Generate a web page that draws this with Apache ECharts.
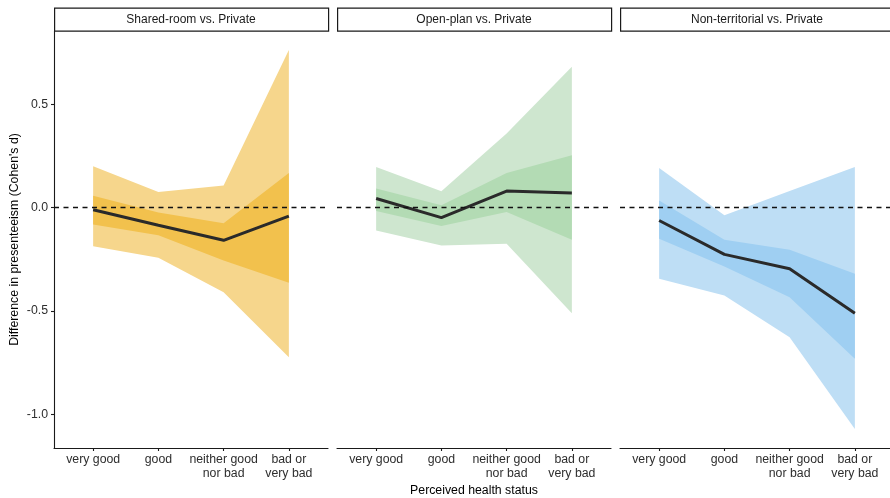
<!DOCTYPE html>
<html>
<head>
<meta charset="utf-8">
<script src="https://cdn.jsdelivr.net/npm/echarts@6/dist/echarts.min.js"></script>
<style>
  html, body { margin: 0; padding: 0; background: #fff; }
  #chart { width: 890px; height: 498px; }
</style>
</head>
<body>
<div id="chart"></div>
<script>
// Perceived health status categories (x axis of every panel)
const categories = ['very good', 'good', 'neither good\nnor bad', 'bad or\nvery bad'];
const panelTitles = ['Shared-room vs. Private', 'Open-plan vs. Private', 'Non-territorial vs. Private'];
const yTicks = [-1.0, -0.5, 0.0, 0.5];

// Shared-room vs. Private
const sharedEst     = [-0.010, -0.085, -0.158, -0.041];
const sharedInnerLo = [-0.081, -0.134, -0.255, -0.363];
const sharedInnerHi = [ 0.058, -0.023, -0.075,  0.168];
const sharedOuterLo = [-0.187, -0.242, -0.409, -0.723];
const sharedOuterHi = [ 0.200,  0.076,  0.107,  0.762];

// Open-plan vs. Private
const openEst     = [ 0.044, -0.048,  0.080,  0.071];
const openInnerLo = [-0.016, -0.089, -0.021, -0.155];
const openInnerHi = [ 0.092,  0.011,  0.168,  0.253];
const openOuterLo = [-0.110, -0.183, -0.175, -0.510];
const openOuterHi = [ 0.197,  0.079,  0.358,  0.681];

// Non-territorial vs. Private
const nonterrEst     = [-0.062, -0.226, -0.295, -0.510];
const nonterrInnerLo = [-0.150, -0.284, -0.433, -0.731];
const nonterrInnerHi = [ 0.035, -0.155, -0.203, -0.320];
const nonterrOuterLo = [-0.344, -0.425, -0.627, -1.070];
const nonterrOuterHi = [ 0.192, -0.037,  0.080,  0.197];

const panels = [
  { est: sharedEst,  innerLo: sharedInnerLo,  innerHi: sharedInnerHi,  outerLo: sharedOuterLo,  outerHi: sharedOuterHi,
    light: '#F6D68C', dark: '#F2C14D' },
  { est: openEst,    innerLo: openInnerLo,    innerHi: openInnerHi,    outerLo: openOuterLo,    outerHi: openOuterHi,
    light: '#CEE6CF', dark: '#B3DBB4' },
  { est: nonterrEst, innerLo: nonterrInnerLo, innerHi: nonterrInnerHi, outerLo: nonterrOuterLo, outerHi: nonterrOuterHi,
    light: '#BEDEF5', dark: '#9FCFF2' }
];

const FONT = '"Liberation Sans", Arial, Helvetica, sans-serif';
const PANEL_LEFT = [54, 337, 620];
const PANEL_W = 274;
const PANEL_TOP = 31;
const PANEL_H = 417;
const Y_MIN = -1.162, Y_MAX = 0.854;

// Filled ribbon between lo and hi, drawn as one polygon through the axis scales
function ribbon(idx, lo, hi, color, z) {
  const rows = lo.map((v, i) => [i, v, hi[i]]);
  return {
    type: 'custom',
    xAxisIndex: idx, yAxisIndex: idx,
    z: z, silent: true, clip: false,
    data: rows,
    encode: { x: 0, y: [1, 2] },
    renderItem(params, api) {
      if (params.dataIndex !== 0) return null;
      const upper = rows.map(r => api.coord([r[0], r[2]]));
      const lower = rows.map(r => api.coord([r[0], r[1]])).reverse();
      return { type: 'polygon', shape: { points: upper.concat(lower) }, style: { fill: color } };
    }
  };
}

const grids = [], xAxes = [], yAxes = [], series = [], graphics = [];

panels.forEach((p, i) => {
  grids.push({ left: PANEL_LEFT[i], top: PANEL_TOP, width: PANEL_W, height: PANEL_H,
               containLabel: false, outerBoundsMode: 'none' });

  xAxes.push({
    type: 'value', gridIndex: i, min: -0.6, max: 3.6,
    axisLine: { show: true, onZero: false, lineStyle: { color: '#1a1a1a', width: 1.1 } },
    axisTick: { show: true, length: 3, customValues: [0, 1, 2, 3], lineStyle: { color: '#1a1a1a', width: 1.1 } },
    axisLabel: { show: true, customValues: [0, 1, 2, 3], formatter: v => categories[Math.round(v)],
                 color: '#2e2e2e', fontSize: 12.3, fontFamily: FONT, margin: 5, lineHeight: 13.6 },
    splitLine: { show: false },
    name: i === 1 ? 'Perceived health status' : '',
    nameLocation: 'middle', nameGap: 35,
    nameTextStyle: { color: '#000', fontSize: 12.3, fontFamily: FONT }
  });

  yAxes.push({
    type: 'value', gridIndex: i, min: Y_MIN, max: Y_MAX,
    axisLine: { show: i === 0, onZero: false, lineStyle: { color: '#1a1a1a', width: 1.1 } },
    axisTick: { show: i === 0, length: 3, customValues: yTicks, lineStyle: { color: '#1a1a1a', width: 1.1 } },
    axisLabel: { show: i === 0, customValues: yTicks, formatter: v => v.toFixed(1),
                 color: '#2e2e2e', fontSize: 12.3, fontFamily: FONT, margin: 6 },
    splitLine: { show: false },
    name: i === 0 ? "Difference in presenteeism (Cohen's d)" : '',
    nameLocation: 'middle', nameGap: 33, nameRotate: 90,
    nameTextStyle: { color: '#000', fontSize: 12.3, fontFamily: FONT }
  });

  series.push(ribbon(i, p.outerLo, p.outerHi, p.light, 1));
  series.push(ribbon(i, p.innerLo, p.innerHi, p.dark, 2));
  series.push({
    type: 'line', xAxisIndex: i, yAxisIndex: i, z: 4,
    data: p.est.map((v, k) => [k, v]),
    showSymbol: false, silent: true, animation: false,
    lineStyle: { color: '#2a2a2a', width: 3 },
    markLine: {
      silent: true, symbol: 'none', animation: false,
      label: { show: false },
      lineStyle: { color: '#111111', width: 1.4, type: [5, 4.5] },
      data: [{ yAxis: 0 }]
    }
  });

  // facet strip
  graphics.push({
    type: 'rect', left: PANEL_LEFT[i], top: 7.5, z: 10,
    shape: { x: 0, y: 0, width: PANEL_W, height: 23 },
    style: { fill: '#ffffff', stroke: '#1a1a1a', lineWidth: 1.2 }
  });
  graphics.push({
    type: 'text', z: 11,
    x: PANEL_LEFT[i] + PANEL_W / 2, y: 19.5,
    style: { text: panelTitles[i], fill: '#1a1a1a', font: '12px ' + FONT, align: 'center', verticalAlign: 'middle' }
  });
});

const chart = echarts.init(document.getElementById('chart'), null, { renderer: 'canvas' });
chart.setOption({
  animation: false,
  backgroundColor: '#ffffff',
  grid: grids,
  xAxis: xAxes,
  yAxis: yAxes,
  series: series,
  graphic: graphics
});
</script>
</body>
</html>
